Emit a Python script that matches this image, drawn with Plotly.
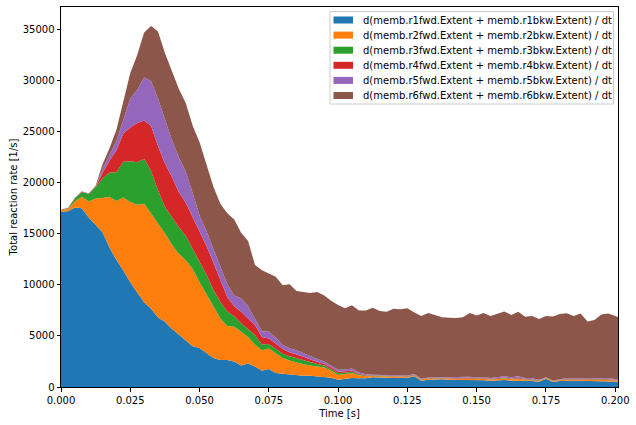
import plotly.graph_objects as go

# Time grid [s]
time = [round(i * 0.0025, 4) for i in range(81)] + [0.201]

series_names = [
    "d(memb.r1fwd.Extent + memb.r1bkw.Extent) / dt",
    "d(memb.r2fwd.Extent + memb.r2bkw.Extent) / dt",
    "d(memb.r3fwd.Extent + memb.r3bkw.Extent) / dt",
    "d(memb.r4fwd.Extent + memb.r4bkw.Extent) / dt",
    "d(memb.r5fwd.Extent + memb.r5bkw.Extent) / dt",
    "d(memb.r6fwd.Extent + memb.r6bkw.Extent) / dt",
]

r1 = [17150, 17200, 17570, 17500, 16600, 15900, 15150, 13650, 12450, 11400,
      10250, 9260, 8300, 7650, 6800, 6390, 5700, 5130, 4550, 4000,
      3820, 3350, 2850, 2640, 2640, 2500, 2100, 2300, 2000, 1600,
      1750, 1380, 1300, 1240, 1150, 1110, 1100, 1020, 980, 900,
      700, 800, 880, 850, 850, 950, 950, 900, 870, 850,
      900, 1050, 620, 720, 750, 750, 720, 720, 700, 720,
      700, 650, 620, 650, 680, 620, 650, 620, 580, 520,
      800, 500, 580, 620, 600, 620, 600, 620, 620, 580,
      550, 520]
r2 = [200, 200, 580, 1120, 1550, 2550, 3350, 4970, 5750, 7160,
      7850, 8590, 9650, 9350, 9150, 8660, 8250, 7920, 7850, 7550,
      6430, 5700, 4900, 4060, 3340, 3400, 3300, 2600, 2150, 2000,
      2030, 1920, 1550, 1360, 1250, 1120, 1000, 980, 920, 700,
      500, 470, 470, 300, 200, 130, 130, 150, 150, 150,
      100, 80, 80, 110, 100, 100, 100, 80, 120, 80,
      80, 150, 110, 150, 140, 140, 150, 100, 100, 80,
      80, 60, 70, 100, 80, 80, 80, 80, 100, 100,
      90, 80]
r3 = [30, 80, 300, 480, 750, 1100, 1900, 2380, 2830, 3490,
      4000, 4150, 4400, 4150, 3300, 2600, 2700, 2600, 2400, 2000,
      1950, 1950, 1750, 1630, 1420, 1030, 850, 800, 950, 550,
      420, 450, 400, 400, 400, 370, 300, 250, 200, 150,
      180, 130, 150, 80, 60, 40, 40, 40, 30, 30,
      40, 40, 30, 30, 30, 30, 40, 40, 30, 50,
      40, 40, 40, 50, 50, 40, 40, 40, 40, 30,
      20, 30, 40, 40, 40, 40, 40, 40, 40, 40,
      40, 40]
r4 = [0, 10, 20, 20, 20, 50, 550, 1150, 2140, 2770,
      3300, 3850, 3750, 4400, 4350, 4250, 3930, 3450, 3250, 3100,
      2950, 2800, 2700, 2090, 1400, 970, 1120, 1000, 1000, 750,
      550, 500, 480, 400, 400, 350, 300, 200, 150, 150,
      120, 130, 120, 70, 50, 30, 30, 30, 30, 30,
      40, 50, 20, 20, 20, 20, 40, 40, 50, 70,
      40, 40, 40, 50, 50, 40, 60, 40, 40, 30,
      30, 20, 30, 40, 40, 40, 40, 40, 40, 40,
      40, 40]
r5 = [10, 10, 20, 20, 20, 40, 400, 600, 930, 1310,
      2850, 3250, 4200, 4400, 4650, 4300, 3620, 3400, 3050, 2350,
      1650, 1450, 1300, 1300, 1250, 1050, 1330, 1200, 500, 550,
      650, 600, 370, 390, 400, 350, 350, 300, 250, 200,
      180, 190, 180, 120, 90, 50, 40, 40, 30, 30,
      40, 50, 50, 40, 30, 40, 50, 60, 80, 80,
      60, 70, 70, 100, 130, 110, 150, 80, 90, 60,
      30, 30, 60, 70, 70, 70, 80, 80, 80, 90,
      60, 70]
r6 = [10, 20, 30, 20, 30, 60, 450, 630, 1080, 1950,
      2500, 3400, 4400, 5400, 6550, 6500, 6700, 6700, 6700, 6600,
      7150, 6600, 6100, 6220, 6950, 7450, 6400, 6400, 5350, 5970,
      5700, 5950, 5850, 6260, 5800, 6030, 6150, 6550, 6450, 6350,
      6350, 5980, 6200, 6080, 6250, 6550, 6260, 6210, 6540, 6510,
      6580, 6030, 6150, 6330, 6070, 5880, 5830, 5810, 5840, 6250,
      6080, 6300, 6070, 6200, 6350, 6100, 6320, 6000, 6100, 5930,
      5990, 6260, 6370, 6340, 6120, 6350, 5560, 5690, 6220, 6350,
      6120, 6100]

x_ticks = [0, 0.025, 0.05, 0.075, 0.1, 0.125, 0.15, 0.175, 0.2]
x_tick_labels = ["0.000", "0.025", "0.050", "0.075", "0.100", "0.125", "0.150", "0.175", "0.200"]
y_ticks = [0, 5000, 10000, 15000, 20000, 25000, 30000, 35000]
y_tick_labels = ["0", "5000", "10000", "15000", "20000", "25000", "30000", "35000"]

colors = ["#1f77b4", "#ff7f0e", "#2ca02c", "#d62728", "#9467bd", "#8c564b"]
all_series = [r1, r2, r3, r4, r5, r6]

FONT = "DejaVu Sans"
fig = go.Figure()
for name, vals, col in zip(series_names, all_series, colors):
    fig.add_trace(go.Scatter(
        x=time, y=vals, name=name, mode="lines", stackgroup="one",
        line=dict(width=0, color=col), fillcolor=col, showlegend=False,
    ))

# Plot-area geometry (pixels) used to place the legend
L, R, T, B = 61, 618, 7, 387
W, H = R - L, B - T
def px(xp):
    return (xp - L) / W
def py(yp):
    return (B - yp) / H

shapes = [dict(type="rect", xref="paper", yref="paper",
               x0=px(330), x1=px(613.5), y0=py(104), y1=py(11.5),
               fillcolor="rgba(255,255,255,0.8)", line=dict(color="#cccccc", width=1))]
annotations = []
for i, (name, col) in enumerate(zip(series_names, colors)):
    yc = 20.0 + i * 15.1
    shapes.append(dict(type="rect", xref="paper", yref="paper",
                       x0=px(333.5), x1=px(353), y0=py(yc + 3.5), y1=py(yc - 3.5),
                       fillcolor=col, line=dict(width=0)))
    annotations.append(dict(xref="paper", yref="paper", x=px(361), y=py(yc),
                            xanchor="left", yanchor="middle", showarrow=False,
                            text=name, font=dict(family=FONT, size=10, color="black")))

fig.update_layout(
    width=636, height=425,
    margin=dict(l=L, r=636 - R, t=T, b=425 - B, autoexpand=False),
    paper_bgcolor="white", plot_bgcolor="white",
    font=dict(family=FONT, size=10, color="black"),
    shapes=shapes, annotations=annotations,
    showlegend=False,
)
fig.update_xaxes(
    range=[0, 0.201], tickvals=x_ticks, ticktext=x_tick_labels,
    ticks="outside", ticklen=3.5, tickwidth=0.8, tickcolor="black",
    showline=True, linecolor="black", linewidth=1, mirror=True,
    showgrid=False, zeroline=False, automargin=False,
    title=dict(text="Time [s]", font=dict(family=FONT, size=10), standoff=5),
)
fig.update_yaxes(
    range=[0, 37200], tickvals=y_ticks, ticktext=y_tick_labels,
    ticks="outside", ticklen=3.5, tickwidth=0.8, tickcolor="black",
    showline=True, linecolor="black", linewidth=1, mirror=True,
    showgrid=False, zeroline=False, automargin=False,
    title=dict(text="Total reaction rate [1/s]", font=dict(family=FONT, size=10), standoff=3),
)

fig.write_html("out.html", config={"displayModeBar": False},
               post_script="document.body.style.margin='0';")
